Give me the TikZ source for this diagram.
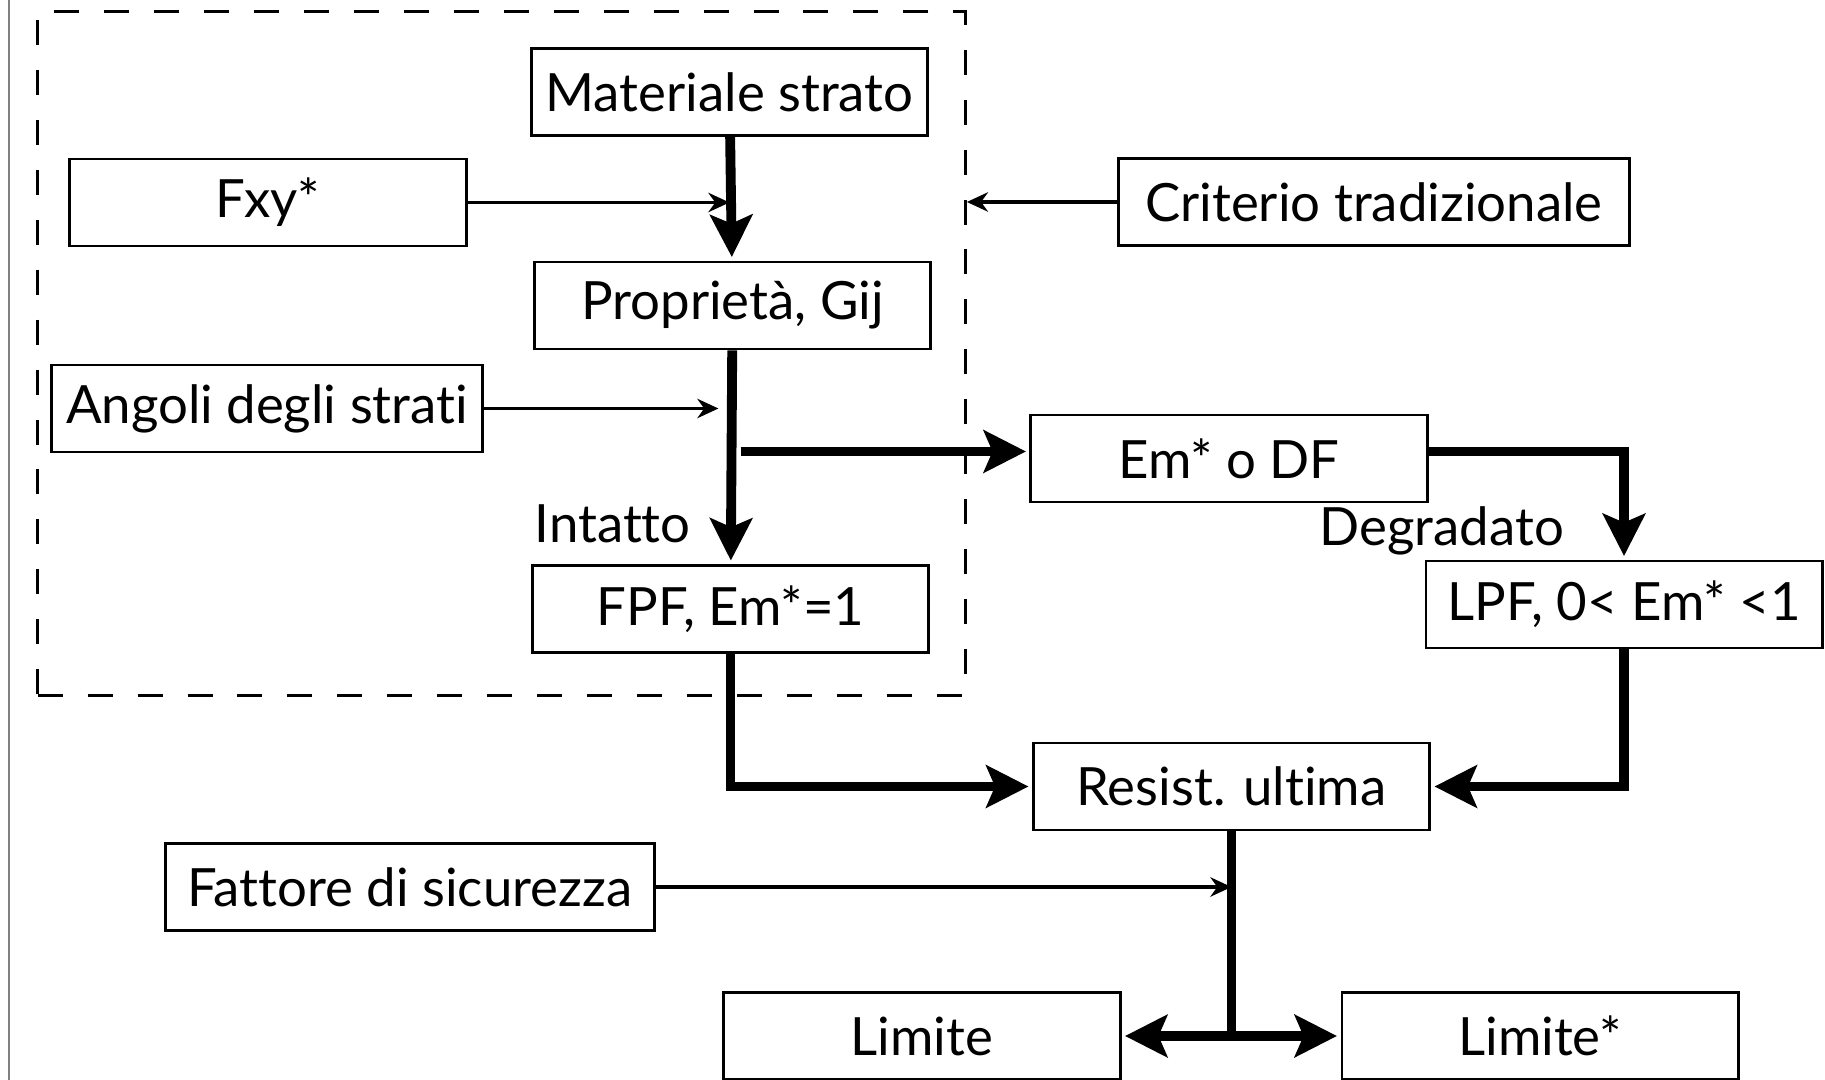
\documentclass[tikz,border=0pt]{standalone}
\usepackage{fontspec}
\setmainfont{Lato}[Ligatures=NoCommon]
\usepackage{tikz}
\usetikzlibrary{arrows.meta}
\usetikzlibrary{positioning}
\tikzstyle{blk}=[draw,rectangle,fill=white,line width=0.8pt,minimum width=3.96cm,minimum height=0.87cm,inner sep=2pt]
\tikzstyle{thick arr}=[line width=2.8pt,-{Stealth[length=12pt,width=12pt,inset=2.5pt]},shorten >=1pt]
\tikzstyle{thin arr}=[line width=1pt,-{Stealth[length=6pt,width=5.5pt]}]

\begin{document}
\begin{tikzpicture}[x=0.01cm,y=-0.01cm,font=\fontsize{15}{18}\selectfont]
    \useasboundingbox (0,0) rectangle (1825,1080);
    \draw [gray,line width=0.4pt] (9,0) -- (9,1080);
    % dashed group
    \node [draw,dash pattern=on 7.1pt off 7.1pt,line width=0.9pt,minimum width=9.27cm,minimum height=6.83cm] (grp) at (501.5,353.5) {};

    \node [blk] (mat)  at (729.5,92)   {Materiale strato};
    \node [blk] (fxy)  at (268,202.5)  {Fxy*};
    \node [blk,minimum width=5.1cm] (crit) at (1374,202) {Criterio tradizionale};
    \node [blk] (prop) at (732.5,305.5) {Proprietà, Gij};
    \node [blk,minimum width=4.3cm] (ang) at (267,408.5) {Angoli degli strati};
    \node [blk] (em)   at (1229,458.5) {Em* o DF};
    \node [blk] (fpf)  at (730.5,609)  {FPF, Em*=1};
    \node [blk] (lpf)  at (1624,604.5) {LPF, 0< Em* <1};
    \node [blk] (res)  at (1231.5,786.5) {Resist. ultima};
    \node [blk,minimum width=4.88cm] (fat) at (410,887) {Fattore di sicurezza};
    \node [blk] (lim)  at (922,1036)   {Limite};
    \node [blk] (lims) at (1540,1036)  {Limite*};

    \node [anchor=west,inner sep=0pt] (int) at (534,524) {Intatto};
    \node [anchor=west,inner sep=0pt] (deg) at (1319,531) {Degradato};

    \coordinate (split) at (res.south |- lim.east);
    \coordinate (emin) at ([yshift=0.07cm]em.west);
    \coordinate (emout) at ([yshift=0.07cm]em.east);

    \draw [thick arr] (mat) -- (prop);
    \draw [thick arr] (prop) -- (fpf);
    \draw [thin arr] (fxy) -- (fxy.east -| mat.south);
    \draw [thin arr] (crit) -- (crit.west -| grp.east);
    \draw [thin arr,shorten >=4pt] (ang) -- (ang.east -| prop.south);
    \draw [thick arr] ([xshift=0.08cm]emin -| prop.south) -- (emin);
    \draw [thick arr] (emout) -| (lpf);
    \draw [thick arr] (fpf) |- (res);
    \draw [thick arr] (lpf) |- (res);
    \draw [thin arr] (fat) -- (fat.east -| res.south);
    \draw [line width=2.8pt] (res) -- (split);
    \draw [thick arr] (split) -- (lim);
    \draw [thick arr] (split) -- (lims);
\end{tikzpicture}
\end{document}
